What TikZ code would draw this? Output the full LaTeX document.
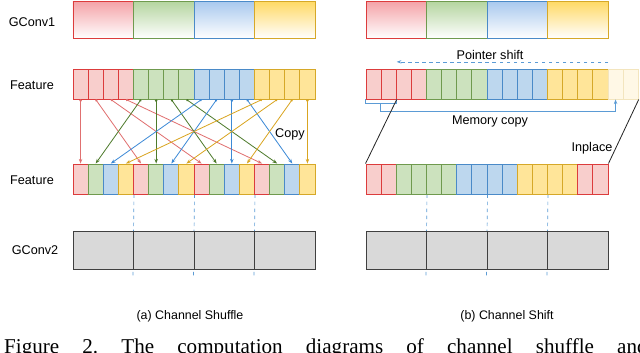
\documentclass[tikz,border=0pt]{standalone}
\usepackage{fontspec}
\setmainfont{Liberation Sans}
\newfontfamily\captionserif{Liberation Serif}
\usepackage{tikz}
\usetikzlibrary{arrows.meta,positioning,backgrounds}
\definecolor{line0}{HTML}{DC3C3C}
\definecolor{line1}{HTML}{6F9A4E}
\definecolor{line2}{HTML}{4A8AC8}
\definecolor{line3}{HTML}{D6A828}
\definecolor{fill0}{HTML}{F8CECC}
\definecolor{fill1}{HTML}{CCE2BE}
\definecolor{fill2}{HTML}{BDD7EE}
\definecolor{fill3}{HTML}{FFE599}
\definecolor{top0}{HTML}{F4A3A8}
\definecolor{top1}{HTML}{B5D5A0}
\definecolor{top2}{HTML}{A9C9EE}
\definecolor{top3}{HTML}{FFD966}
\definecolor{arr0}{HTML}{E07070}
\definecolor{arr1}{HTML}{4E7B2C}
\definecolor{arr2}{HTML}{3D8AD6}
\definecolor{arr3}{HTML}{D9A521}
\definecolor{hint}{HTML}{5B9BD5}
\tikzset{
    cell/.style = {rectangle, minimum width=0.4538cm, minimum height=0.9cm, inner sep=0pt, line width=0.8pt},
    cell0/.style = {cell, draw=line0, fill=fill0},
    cell1/.style = {cell, draw=line1, fill=fill1},
    cell2/.style = {cell, draw=line2, fill=fill2},
    cell3/.style = {cell, draw=line3, fill=fill3},
    ghost/.style = {cell, draw=line3!30, fill=fill3!25},
    block/.style = {rectangle, minimum width=1.815cm, minimum height=1.11cm, inner sep=0pt, line width=0.8pt},
    block0/.style = {block, draw=line0, top color=top0, bottom color=white},
    block1/.style = {block, draw=line1, top color=top1, bottom color=white},
    block2/.style = {block, draw=line2, top color=top2, bottom color=white},
    block3/.style = {block, draw=line3, top color=top3, bottom color=white},
    gconv/.style = {rectangle, minimum width=1.815cm, minimum height=1.14cm, inner sep=0pt, draw=black!75, fill=black!15, line width=0.8pt},
    txt/.style = {font=\fontsize{10.8}{13}\selectfont, inner sep=0pt},
    shuffle/.style = {{Circle[length=2pt]}-{Stealth[length=4pt]}, line width=0.7pt},
    splitline/.style = {draw=hint, dashed, line width=0.6pt},
    copyline/.style = {draw=hint, line width=0.8pt}
}
\begin{document}
\frenchspacing
\begin{tikzpicture}[x=0.03cm, y=-0.03cm]
    \clip (0,0) rectangle (640,352);

    % channel shuffle
    \node [txt] (nameconv1) at (32,22) {GConv1};
    \node [txt] (namefeata) at (32,85) {Feature};
    \node [txt] (namefeatb) at (32,180) {Feature};
    \node [txt] (nameconv2) at (35,250) {GConv2};
    \foreach \k in {0,...,3}
        \node [block\k] (conv1a\k) at ({73+60.5*\k+30.25},20) {};
    \foreach \i in {0,...,15}{
        \pgfmathtruncatemacro\g{\i/4}
        \pgfmathtruncatemacro\h{mod(\i,4)}
        \node [cell\g] (feata\i) at ({73+15.125*(\i+0.5)},84) {};
        \node [cell\h] (featb\i) at ({73+15.125*(\i+0.5)},179) {};
    }
    \foreach \i in {0,...,15}{
        \pgfmathtruncatemacro\g{\i/4}
        \pgfmathtruncatemacro\p{4*mod(\i,4)+\g}
        \draw [shuffle, draw=arr\g] (feata\i.south) -- (featb\p.north);
    }
    \node [txt] (copy) at (290,134) {Copy};
    \foreach \k in {0,...,3}
        \node [gconv] (conv2a\k) at ({73+60.5*\k+30.25},250) {};
    \node [txt, font=\fontsize{10.6}{12}\selectfont] (capa) at (190,316) {(a) Channel Shuffle};

    % channel shift
    \foreach \k in {0,...,3}
        \node [block\k] (conv1b\k) at ({366+60.5*\k+30.25},20) {};
    \foreach \i in {0,...,15}{
        \pgfmathtruncatemacro\g{\i/4}
        \pgfmathtruncatemacro\h{mod(int((\i+2)/4),4)}
        \node [cell\g] (shifta\i) at ({366+15.125*(\i+0.5)},84) {};
        \node [cell\h] (shiftb\i) at ({366+15.125*(\i+0.5)},179) {};
    }
    \node [ghost] (shifta16) at ({366+15.125*16.5},84) {};
    \node [ghost] (shifta17) at ({366+15.125*17.5},84) {};
    \draw [splitline, -{Stealth[length=4pt]}] ([yshift=0.2cm]shifta15.north east) -- ([yshift=0.2cm]shifta1.north east);
    \node [txt] (pointer) at (490,55) {Pointer shift};
    \draw [copyline] (shifta0.south west) -- ++(0,4) -| (shifta1.south east);
    \draw [copyline, -{Stealth[length=4pt]}] ([yshift=-0.12cm]shifta1.south west) -- ++(0,8) -| (shifta16.south);
    \node [txt] (memcopy) at (490,121) {Memory copy};
    \draw [black!85, line width=0.7pt] (shifta1.south east) -- (shiftb0.north west);
    \draw [black!85, line width=0.7pt] (shifta17.south east) -- (shiftb15.north east);
    \node [txt] (inplace) at (592,148) {Inplace};
    \foreach \k in {0,...,3}
        \node [gconv] (conv2b\k) at ({366+60.5*\k+30.25},250) {};
    \node [txt, font=\fontsize{10.6}{12}\selectfont] (capb) at (507,316) {(b) Channel Shift};

    % group borders behind GConv2
    \begin{scope}[on background layer]
        \foreach \k in {1,2,3}{
            \pgfmathtruncatemacro\c{4*\k-1}
            \draw [splitline] (featb\c.south east) -- ([yshift=-0.25cm]conv2a\k.south west);
            \draw [splitline] (shiftb\c.south east) -- ([yshift=-0.25cm]conv2b\k.south west);
        }
    \end{scope}

    \node [anchor=base west, inner sep=0pt] (figcap) at (4,353)
        {\captionserif\fontsize{18}{20}\selectfont\makebox[19.3cm][s]{Figure 2. The computation diagrams of channel shuffle and}};
\end{tikzpicture}
\end{document}
